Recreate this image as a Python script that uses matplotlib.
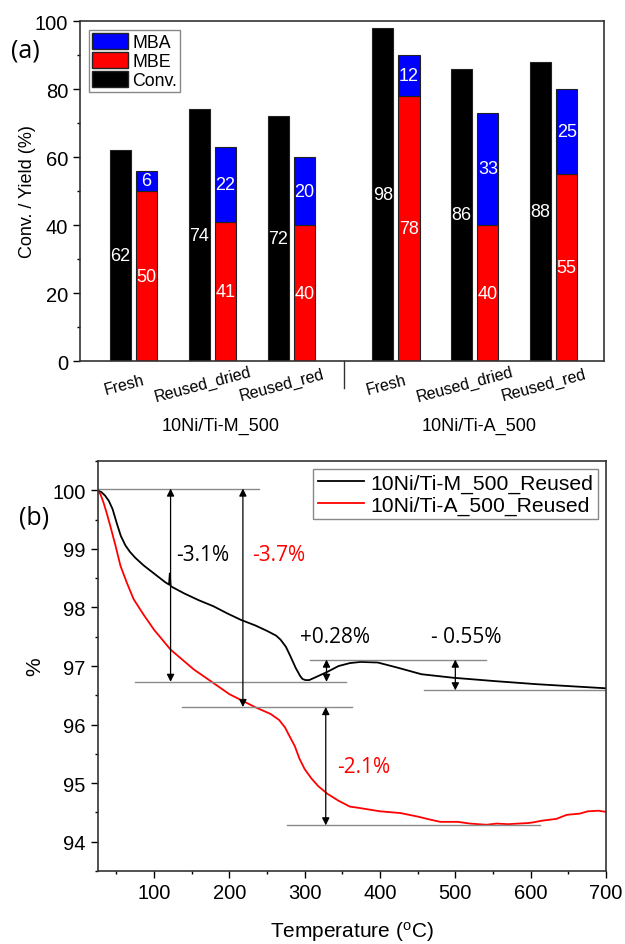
import matplotlib
matplotlib.use("Agg")
import matplotlib.pyplot as plt
from matplotlib.patches import Patch
from matplotlib.ticker import MultipleLocator
import numpy as np

plt.rcParams["font.family"] = ["Liberation Sans", "DejaVu Sans"]
plt.rcParams["mathtext.default"] = "regular"

# (a) catalytic results per catalyst / state
groups = ["10Ni/Ti-M_500", "10Ni/Ti-A_500"]
states = ["Fresh", "Reused_dried", "Reused_red"]
conv = [62, 74, 72, 98, 86, 88]
mbe = [50, 41, 40, 78, 40, 55]
mba = [6, 22, 20, 12, 33, 25]

# (b) TGA curves, read point by point
t_m = [25, 30, 35, 40, 45, 51, 56, 62, 68, 75, 86, 100, 115, 120, 121, 122, 124, 140,
       160, 179, 197, 215, 235, 250, 262, 268, 275, 281, 288, 294, 297, 301, 306, 313,
       330, 345, 360, 374, 397, 424, 455, 497, 555, 608, 660, 700]
w_m = [100.0, 99.97, 99.91, 99.82, 99.68, 99.42, 99.22, 99.06, 98.95, 98.85, 98.72,
       98.58, 98.43, 98.39, 98.58, 98.37, 98.35, 98.24, 98.12, 98.02, 97.90, 97.79,
       97.69, 97.60, 97.52, 97.45, 97.33, 97.17, 96.97, 96.83, 96.78, 96.76, 96.76,
       96.80, 96.90, 97.00, 97.05, 97.07, 97.06, 96.97, 96.86, 96.80, 96.74, 96.69,
       96.65, 96.62]
t_a = [25, 29, 33, 37, 42, 49, 55.5, 64, 73, 86, 100, 122, 153, 171, 200, 234, 255,
       266, 274, 280, 287, 293, 300, 309, 318, 330, 345, 360, 371, 400, 427, 450,
       466, 480, 503, 520, 541, 555, 570, 597, 603, 615, 634, 648, 665, 676, 690, 700]
w_a = [100.0, 99.93, 99.79, 99.62, 99.39, 99.05, 98.71, 98.42, 98.14, 97.88, 97.62,
       97.28, 96.94, 96.78, 96.52, 96.30, 96.18, 96.08, 95.95, 95.80, 95.63, 95.42,
       95.24, 95.08, 94.95, 94.82, 94.70, 94.60, 94.58, 94.52, 94.49, 94.43, 94.38,
       94.34, 94.34, 94.31, 94.29, 94.31, 94.30, 94.32, 94.33, 94.36, 94.39, 94.46,
       94.48, 94.52, 94.53, 94.51]

# guide lines (y, x0, x1) and double arrows (x, y0, y1) for the mass steps
guides = [(100.03, 25, 240), (96.73, 75, 355), (96.30, 137, 363),
          (94.28, 276, 612), (97.11, 307, 541), (96.585, 458, 700)]
arrows = [(122, 100.03, 96.73), (218, 100.03, 96.30), (328, 96.30, 94.28),
          (329, 97.11, 96.73), (500, 97.11, 96.585)]
steps = [("-3.1%", 165, 98.91, "black"), ("-3.7%", 266, 98.91, "red"),
         ("+0.28%", 340, 97.51, "black"), ("- 0.55%", 514, 97.51, "black"),
         ("-2.1%", 378, 95.29, "red")]

fig = plt.figure(figsize=(6.25, 9.45), dpi=100)

# ---------------- (a) bars ----------------
ax = fig.add_axes([0.128, 0.6169, 0.8384, 0.3598])
pos = np.array([0, 1, 2, 3.33, 4.33, 5.33])
w, off = 0.268, 0.166
ek = dict(edgecolor="#222222", linewidth=0.8)
ax.bar(pos - off, conv, w, color="black", **ek)
ax.bar(pos + off, mbe, w, color="#ff0000", **ek)
ax.bar(pos + off, mba, w, bottom=mbe, color="#0000ff", **ek)
for x, c, e, a in zip(pos, conv, mbe, mba):
    ax.text(x - off, c / 2, str(c), color="white", ha="center", va="center", fontsize=13)
    ax.text(x + off, e / 2, str(e), color="white", ha="center", va="center", fontsize=13)
    ax.text(x + off, e + a / 2, str(a), color="white", ha="center", va="center", fontsize=13)

ax.set_xlim(-0.68, 5.97)
ax.set_ylim(0, 100)
ax.set_xticks([])
ax.yaxis.set_major_locator(MultipleLocator(20))
ax.yaxis.set_minor_locator(MultipleLocator(10))
ax.tick_params(axis="y", which="major", direction="out", length=5, width=1, labelsize=14.5)
ax.tick_params(axis="y", which="minor", direction="out", length=2.5, width=1)
for s in ax.spines.values():
    s.set_linewidth(1.2)
    s.set_color("#333333")
ax.set_ylabel("Conv. / Yield (%)", fontsize=13, labelpad=-1)

xt = ax.get_xaxis_transform()
for i, x in enumerate(pos):
    ax.text(x - 0.12, -0.068, states[i % 3], transform=xt, rotation=15,
            ha="center", va="center", fontsize=11.5)
for g, x in zip(groups, [1.1, 4.38]):
    ax.text(x, -0.19, g, transform=xt, ha="center", va="center", fontsize=13)
ax.plot([2.667, 2.667], [0, -0.08], transform=xt, color="#333333", lw=1, clip_on=False)

handles = [Patch(facecolor="#0000ff", edgecolor="#222222", label="MBA"),
           Patch(facecolor="#ff0000", edgecolor="#222222", label="MBE"),
           Patch(facecolor="black", edgecolor="#222222", label="Conv.")]
leg = ax.legend(handles=handles, loc="upper left", fontsize=12.8, handlelength=2.05,
                handleheight=1.05, handletextpad=0.25, labelspacing=0.05,
                borderpad=0.15, borderaxespad=0.5, fancybox=False, framealpha=1)
leg.get_frame().set_edgecolor("#888888")
leg.get_frame().set_linewidth(1)
fig.text(25 / 625, 1 - 51 / 945, "(a)", fontsize=18, family=["Open Sans", "DejaVu Sans"],
         ha="center", va="center")

# ---------------- (b) TGA ----------------
bx = fig.add_axes([0.156, 0.0772, 0.8136, 0.4339])
bx.plot(t_m, w_m, color="black", lw=1.3, label="10Ni/Ti-M_500_Reused")
bx.plot(t_a, w_a, color="#ff0000", lw=1.3, label="10Ni/Ti-A_500_Reused")
for y, x0, x1 in guides:
    bx.plot([x0, x1], [y, y], color="#8a8a8a", lw=1)
for x, y0, y1 in arrows:
    bx.annotate("", xy=(x, y1), xytext=(x, y0),
                arrowprops=dict(arrowstyle="<|-|>", color="black", lw=0.9,
                                mutation_scale=11, shrinkA=0, shrinkB=0))
for s, x, y, c in steps:
    bx.text(x, y, s, color=c, ha="center", va="center", fontsize=15,
            family=["Open Sans", "DejaVu Sans"])

bx.set_xlim(25, 700)
bx.set_ylim(93.5, 100.5)
bx.xaxis.set_major_locator(MultipleLocator(100))
bx.xaxis.set_minor_locator(MultipleLocator(50))
bx.yaxis.set_major_locator(MultipleLocator(1))
bx.yaxis.set_minor_locator(MultipleLocator(0.5))
bx.tick_params(which="major", direction="out", length=5, width=1, labelsize=14.5)
bx.tick_params(which="minor", direction="out", length=2.5, width=1)
for s in bx.spines.values():
    s.set_linewidth(1.2)
    s.set_color("#333333")
bx.set_xlabel(r"Temperature ($^{o}$C)", fontsize=15, labelpad=12)
bx.set_ylabel("%", fontsize=15, labelpad=6)
leg2 = bx.legend(loc="upper right", fontsize=15.2, handlelength=2.2, handletextpad=0.3,
                 labelspacing=0.12, borderpad=0.2, borderaxespad=0.4, fancybox=False,
                 framealpha=1)
leg2.get_frame().set_edgecolor("#888888")
leg2.get_frame().set_linewidth(1)
fig.text(34 / 625, 1 - 518 / 945, "(b)", fontsize=18, family=["Open Sans", "DejaVu Sans"],
         ha="center", va="center")

fig.savefig("out.png", dpi=100)
